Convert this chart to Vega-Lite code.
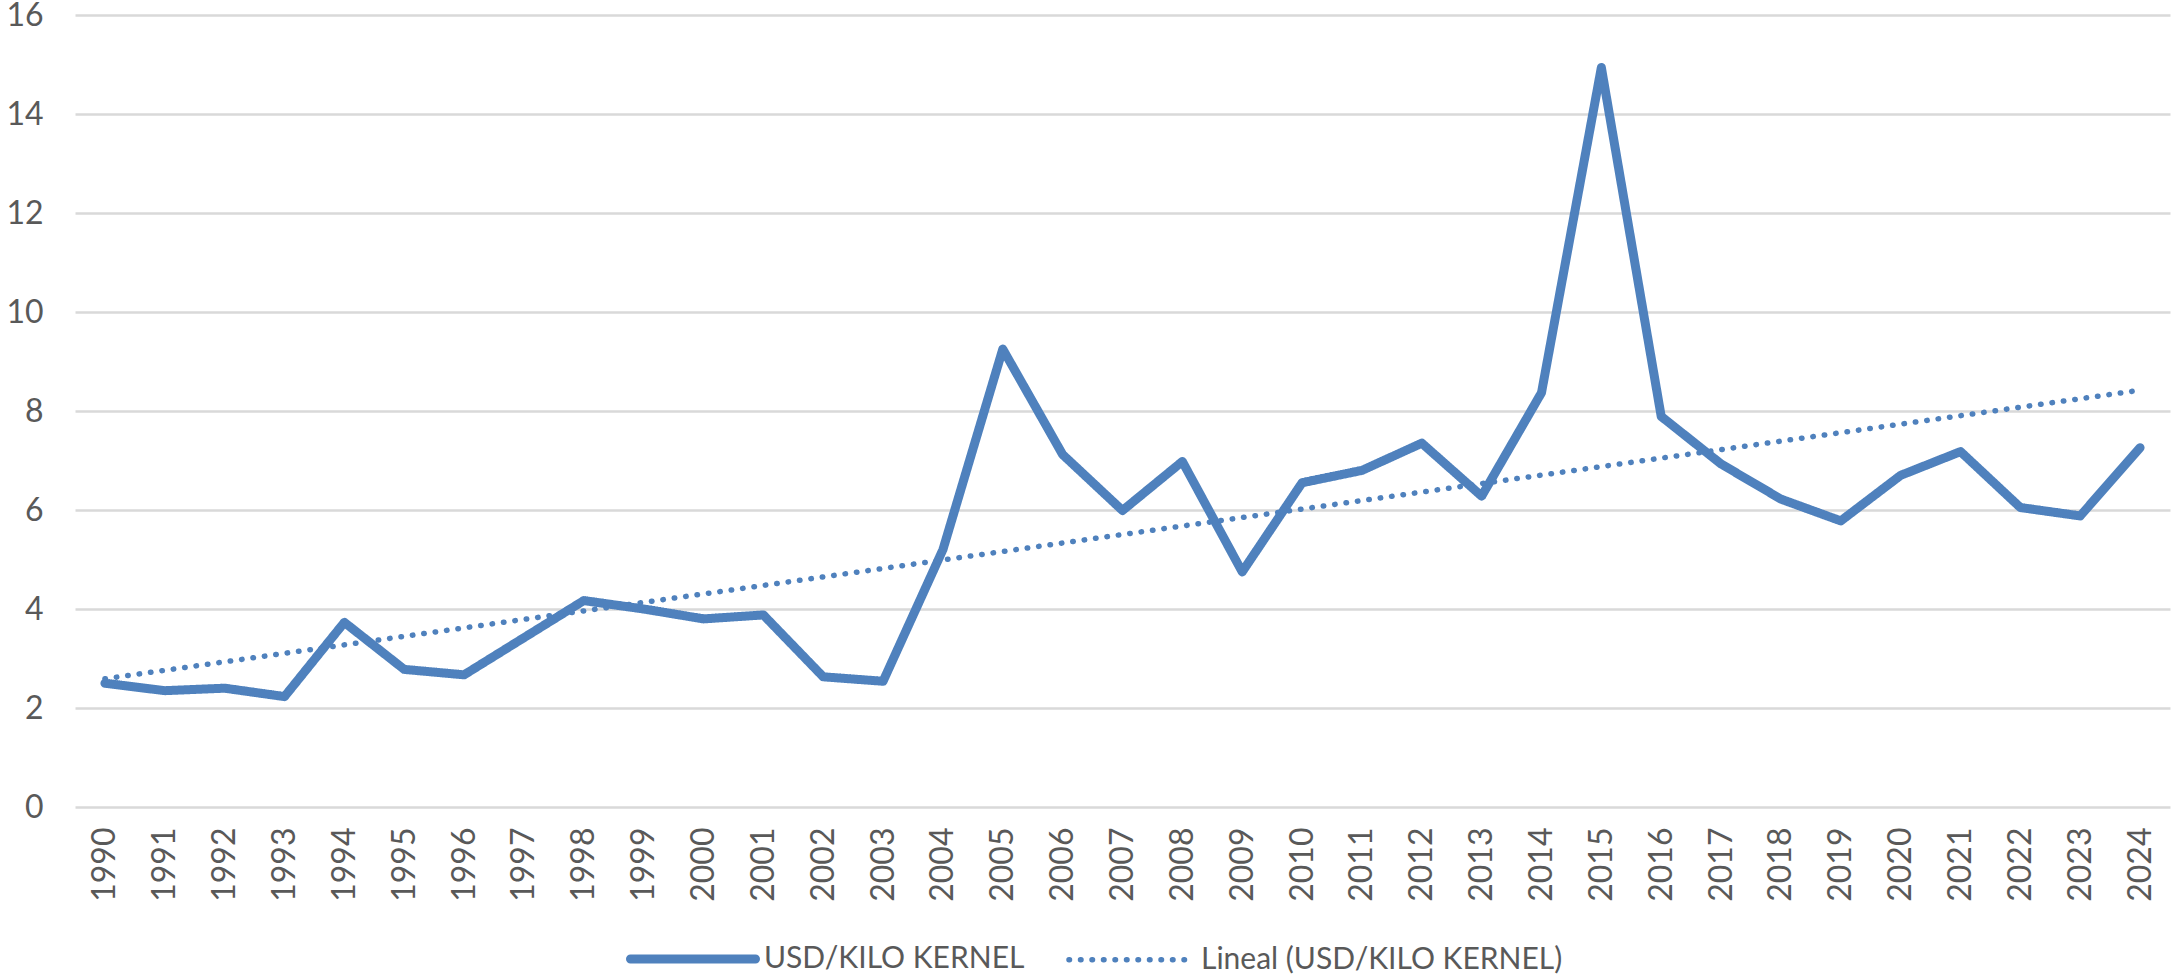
{
  "$schema": "https://vega.github.io/schema/vega-lite/v6.json",
  "width": 2095,
  "height": 792,
  "autosize": {"type": "none"},
  "padding": {"left": 75, "top": 15, "right": 2, "bottom": 173},
  "background": "white",
  "config": {"view": {"stroke": null}, "font": "Lato"},
  "data": {
    "values": [
      {"year": 1990, "value": 2.5, "series": "USD/KILO KERNEL"},
      {"year": 1991, "value": 2.35, "series": "USD/KILO KERNEL"},
      {"year": 1992, "value": 2.4, "series": "USD/KILO KERNEL"},
      {"year": 1993, "value": 2.23, "series": "USD/KILO KERNEL"},
      {"year": 1994, "value": 3.73, "series": "USD/KILO KERNEL"},
      {"year": 1995, "value": 2.78, "series": "USD/KILO KERNEL"},
      {"year": 1996, "value": 2.67, "series": "USD/KILO KERNEL"},
      {"year": 1997, "value": 3.42, "series": "USD/KILO KERNEL"},
      {"year": 1998, "value": 4.17, "series": "USD/KILO KERNEL"},
      {"year": 1999, "value": 4.0, "series": "USD/KILO KERNEL"},
      {"year": 2000, "value": 3.8, "series": "USD/KILO KERNEL"},
      {"year": 2001, "value": 3.88, "series": "USD/KILO KERNEL"},
      {"year": 2002, "value": 2.63, "series": "USD/KILO KERNEL"},
      {"year": 2003, "value": 2.54, "series": "USD/KILO KERNEL"},
      {"year": 2004, "value": 5.2, "series": "USD/KILO KERNEL"},
      {"year": 2005, "value": 9.25, "series": "USD/KILO KERNEL"},
      {"year": 2006, "value": 7.12, "series": "USD/KILO KERNEL"},
      {"year": 2007, "value": 5.99, "series": "USD/KILO KERNEL"},
      {"year": 2008, "value": 6.98, "series": "USD/KILO KERNEL"},
      {"year": 2009, "value": 4.75, "series": "USD/KILO KERNEL"},
      {"year": 2010, "value": 6.55, "series": "USD/KILO KERNEL"},
      {"year": 2011, "value": 6.8, "series": "USD/KILO KERNEL"},
      {"year": 2012, "value": 7.35, "series": "USD/KILO KERNEL"},
      {"year": 2013, "value": 6.28, "series": "USD/KILO KERNEL"},
      {"year": 2014, "value": 8.37, "series": "USD/KILO KERNEL"},
      {"year": 2015, "value": 14.94, "series": "USD/KILO KERNEL"},
      {"year": 2016, "value": 7.89, "series": "USD/KILO KERNEL"},
      {"year": 2017, "value": 6.93, "series": "USD/KILO KERNEL"},
      {"year": 2018, "value": 6.22, "series": "USD/KILO KERNEL"},
      {"year": 2019, "value": 5.78, "series": "USD/KILO KERNEL"},
      {"year": 2020, "value": 6.7, "series": "USD/KILO KERNEL"},
      {"year": 2021, "value": 7.18, "series": "USD/KILO KERNEL"},
      {"year": 2022, "value": 6.05, "series": "USD/KILO KERNEL"},
      {"year": 2023, "value": 5.88, "series": "USD/KILO KERNEL"},
      {"year": 2024, "value": 7.26, "series": "USD/KILO KERNEL"},
      {"year": 1990, "value": 2.59, "series": "Lineal (USD/KILO KERNEL)"},
      {"year": 2024, "value": 8.42, "series": "Lineal (USD/KILO KERNEL)"}
    ]
  },
  "mark": {"type": "line", "strokeCap": "round", "strokeJoin": "round"},
  "encoding": {
    "x": {
      "field": "year",
      "type": "ordinal",
      "scale": {"type": "point", "padding": 0.5},
      "axis": {
        "title": null,
        "labelAngle": -90,
        "labelFontSize": 32,
        "labelColor": "#595959",
        "labelPadding": 20,
        "ticks": false,
        "domain": false,
        "grid": false
      }
    },
    "y": {
      "field": "value",
      "type": "quantitative",
      "scale": {"domain": [0, 16], "nice": false},
      "axis": {
        "title": null,
        "values": [0, 2, 4, 6, 8, 10, 12, 14, 16],
        "labelFontSize": 32,
        "labelColor": "#595959",
        "labelPadding": 32,
        "ticks": false,
        "domain": false,
        "gridColor": "#D9D9D9",
        "gridWidth": 2.5
      }
    },
    "color": {
      "field": "series",
      "type": "nominal",
      "scale": {"domain": ["USD/KILO KERNEL", "Lineal (USD/KILO KERNEL)"], "range": ["#4F81BD", "#4F81BD"]},
      "legend": {
        "title": null,
        "orient": "none",
        "legendX": 551,
        "legendY": 877,
        "direction": "horizontal",
        "symbolType": "stroke",
        "symbolSize": 15625,
        "labelFontSize": 30,
        "labelColor": "#595959",
        "labelOffset": 4,
        "columnPadding": 33,
        "labelLimit": 600,
        "encode": {
          "symbols": {
            "update": {
              "strokeWidth": {"signal": "datum.value === 'USD/KILO KERNEL' ? 10 : 4.5"},
              "strokeCap": {"value": "round"}
            }
          }
        }
      }
    },
    "strokeDash": {
      "field": "series",
      "type": "nominal",
      "scale": {"domain": ["USD/KILO KERNEL", "Lineal (USD/KILO KERNEL)"], "range": [[1, 0], [0.5, 11]]},
      "legend": {
        "title": null,
        "orient": "none",
        "legendX": 551,
        "legendY": 877,
        "direction": "horizontal",
        "symbolType": "stroke",
        "symbolSize": 15625,
        "labelFontSize": 30,
        "labelColor": "#595959",
        "labelOffset": 4,
        "columnPadding": 33,
        "labelLimit": 600,
        "encode": {
          "symbols": {
            "update": {
              "strokeWidth": {"signal": "datum.value === 'USD/KILO KERNEL' ? 10 : 4.5"},
              "strokeCap": {"value": "round"}
            }
          }
        }
      }
    },
    "strokeWidth": {
      "field": "series",
      "type": "nominal",
      "scale": {"domain": ["USD/KILO KERNEL", "Lineal (USD/KILO KERNEL)"], "range": [9, 5.5]},
      "legend": {
        "title": null,
        "orient": "none",
        "legendX": 551,
        "legendY": 877,
        "direction": "horizontal",
        "symbolType": "stroke",
        "symbolSize": 15625,
        "labelFontSize": 30,
        "labelColor": "#595959",
        "labelOffset": 4,
        "columnPadding": 33,
        "labelLimit": 600,
        "encode": {
          "symbols": {
            "update": {
              "strokeWidth": {"signal": "datum.value === 'USD/KILO KERNEL' ? 10 : 4.5"},
              "strokeCap": {"value": "round"}
            }
          }
        }
      }
    }
  }
}
